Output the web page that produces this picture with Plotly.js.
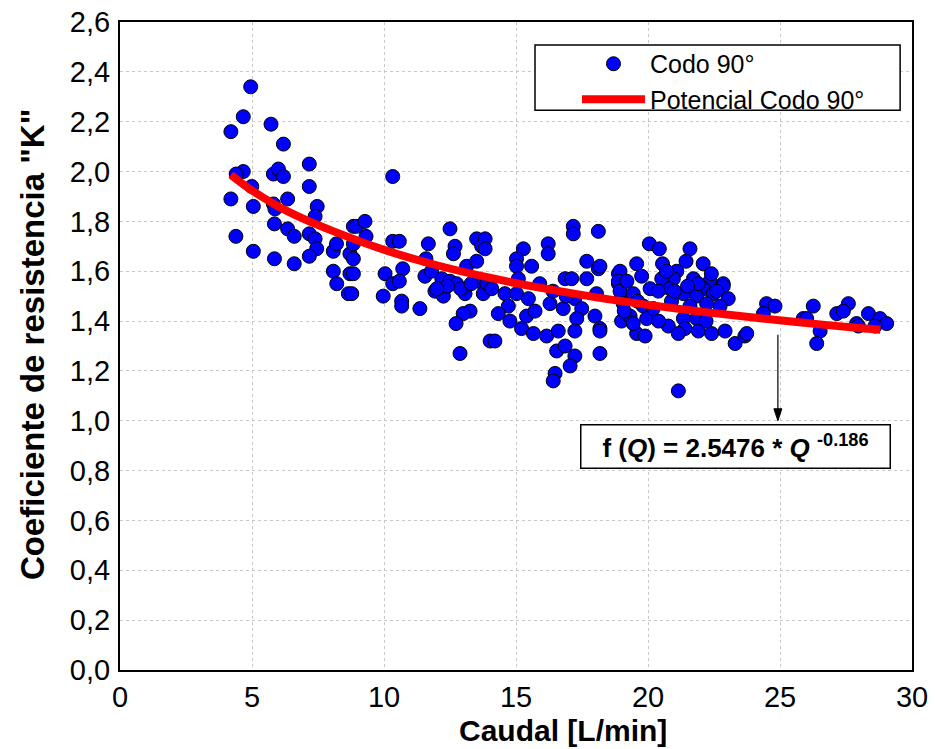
<!DOCTYPE html>
<html>
<head>
<meta charset="utf-8">
<script src="https://cdn.plot.ly/plotly-3.0.1.min.js"></script>
<style>html,body{margin:0;padding:0;background:#fff;}#chart{width:935px;height:749px;}</style>
</head>
<body>
<div id="chart"></div>
<script>
// Measured points: Caudal Q [L/min] and resistance coefficient K
const caudalQ = [
 4.95,4.67,4.20,5.72,6.19,7.17,4.67,4.40,5.81,6.00,6.19,7.17,4.99,4.20,5.05,5.81,5.87,6.35,7.47,7.39,5.85,6.35,6.60,7.17,7.39,7.45,4.39,5.05,5.85,6.60,7.17,8.08,8.20,8.08,8.21,8.65,8.71,8.84,8.71,
 8.96,9.28,9.32,8.84,8.84,8.84,8.78,10.33,10.33,10.58,10.04,10.71,10.33,10.58,9.97,10.67,10.67,11.36,11.68,11.59,11.55,11.93,12.19,12.50,12.69,12.63,12.50,12.25,12.75,13.07,13.13,13.51,13.70,13.51,13.57,13.76,13.26,13.00,12.73,12.88,14.02,
 12.9,13.3,12.4,13.9,11.8,12.0,
 13.83,13.83,15.28,16.22,16.22,17.17,17.17,18.12,15.02,15.02,15.59,15.09,14.08,14.58,15.02,15.47,14.71,14.33,14.77,15.40,15.72,15.21,15.66,14.20,16.29,16.86,17.11,16.79,17.23,17.68,18.12,17.68,18.05,17.99,18.18,17.49,17.30,17.23,16.16,16.60,16.54,16.86,17.23,17.05,16.48,16.41,18.18,18.88,18.88,19.00,19.00,18.18,18.18,
 16.4,16.9,15.9,
 20.05,20.43,21.59,21.44,19.57,20.55,22.09,18.94,19.76,21.09,20.96,18.88,20.52,21.72,22.35,22.85,20.08,20.83,22.09,22.85,18.94,19.44,20.39,21.34,21.84,22.47,23.04,20.89,19.06,19.82,21.59,22.22,22.73,19.32,19.95,21.34,21.84,20.77,21.40,21.91,22.41,22.92,19.57,19.89,19.44,21.15,23.30,23.67,21.15,
 19.2,19.6,20.2,21.0,21.9,22.6,20.4,22.2,19.1,21.5,22.4,20.7,
 24.49,24.81,24.37,23.74,25.88,26.26,26.01,26.52,26.39,27.15,27.59,27.40,28.35,28.79,29.04,27.90,28.60,27.97
];
const coefK = [
 2.34,2.22,2.16,2.19,2.11,2.03,2.00,1.99,1.99,2.01,1.98,1.94,1.94,1.89,1.86,1.87,1.85,1.89,1.86,1.82,1.79,1.77,1.74,1.75,1.73,1.69,1.74,1.68,1.65,1.63,1.66,1.68,1.71,1.60,1.55,1.51,1.59,1.78,1.67,
 1.78,1.80,1.74,1.71,1.65,1.59,1.51,1.98,1.72,1.72,1.59,1.61,1.55,1.56,1.50,1.48,1.46,1.45,1.71,1.65,1.58,1.52,1.57,1.77,1.70,1.67,1.56,1.50,1.55,1.51,1.62,1.73,1.70,1.64,1.56,1.51,1.44,1.43,1.39,1.27,1.32,
 1.53,1.55,1.54,1.55,1.60,1.53,
 1.73,1.69,1.69,1.71,1.67,1.78,1.75,1.76,1.65,1.62,1.62,1.57,1.53,1.51,1.51,1.49,1.46,1.43,1.40,1.42,1.44,1.37,1.35,1.32,1.47,1.57,1.57,1.45,1.49,1.64,1.61,1.57,1.51,1.42,1.37,1.45,1.41,1.36,1.34,1.36,1.28,1.30,1.26,1.22,1.19,1.16,1.27,1.59,1.55,1.50,1.40,1.62,1.36,
 1.52,1.50,1.55,
 1.71,1.69,1.69,1.64,1.63,1.63,1.63,1.60,1.58,1.60,1.57,1.56,1.57,1.57,1.56,1.55,1.53,1.53,1.53,1.54,1.52,1.51,1.52,1.51,1.50,1.51,1.49,1.48,1.47,1.46,1.46,1.47,1.46,1.42,1.41,1.41,1.41,1.38,1.37,1.36,1.35,1.36,1.35,1.34,1.39,1.35,1.31,1.34,1.12,
 1.56,1.48,1.45,1.52,1.55,1.52,1.40,1.40,1.44,1.54,1.59,1.60,
 1.47,1.46,1.43,1.35,1.41,1.46,1.41,1.36,1.31,1.43,1.47,1.44,1.43,1.41,1.39,1.39,1.38,1.38
];
// Power trend line
const trendQ = [4.2,5,6,7,8,10,12,14,16,18,20,22,24,26,28,28.8];
const trendK = [1.987,1.924,1.86,1.808,1.764,1.686,1.624,1.574,1.532,1.496,1.465,1.438,1.414,1.392,1.372,1.365];

const seriesNames = ['Codo 90°', 'Potencial Codo 90°'];
const xTitle = 'Caudal [L/min]';
const yTitle = 'Coeficiente de resistencia "K"';
const fitLabel = '<b>f (<i>Q</i>) = 2.5476 * <i>Q</i> <sup>-0.186</sup></b>';
const fitPoint = {q: 24.92, kFrom: 1.345, kTo: 1.0};

const FONT = 'Liberation Sans, Arial, sans-serif';

const traces = [
  {x: caudalQ, y: coefK, type: 'scatter', mode: 'markers', name: seriesNames[0],
   marker: {color: '#0000ff', size: 14, line: {color: '#000', width: 1}}},
  {x: trendQ, y: trendK, type: 'scatter', mode: 'lines', name: seriesNames[1],
   line: {color: '#ff0000', width: 8, shape: 'spline'}}
];

const layout = {
  width: 935, height: 749,
  margin: {l: 120, r: 23, t: 22, b: 79},
  paper_bgcolor: '#fff', plot_bgcolor: '#fff',
  separators: ',.',
  font: {family: FONT, color: '#000'},
  showlegend: true,
  legend: {x: 0.577, y: 0.9707, xanchor: 'left', yanchor: 'top',
           bgcolor: 'rgba(0,0,0,0)', borderwidth: 0,
           font: {size: 25, family: FONT}, itemwidth: 63, tracegroupgap: 0},
  xaxis: {range: [0, 30], dtick: 5, tick0: 0, showgrid: true, gridcolor: '#c8c8c8', griddash: 'dot',
          zeroline: false, showline: true, linecolor: '#000', linewidth: 2, mirror: true,
          ticks: '', ticklabelstandoff: 0, tickfont: {size: 29, family: FONT}},
  yaxis: {range: [0, 2.6], dtick: 0.2, tick0: 0, tickformat: '.1f', showgrid: true, gridcolor: '#c8c8c8', griddash: 'dot',
          zeroline: false, showline: true, linecolor: '#000', linewidth: 2, mirror: true,
          ticks: '', ticklabelstandoff: 2, tickfont: {size: 29, family: FONT}},
  shapes: [
    {type: 'rect', xref: 'paper', yref: 'paper', x0: 0.524, x1: 0.985, y0: 0.864, y1: 0.9645,
     fillcolor: '#fff', line: {color: '#000', width: 1.5}, layer: 'above'},
    {type: 'line', xref: 'x', yref: 'y', x0: fitPoint.q, x1: fitPoint.q, y0: fitPoint.kFrom, y1: fitPoint.kTo + 0.03,
     line: {color: '#000', width: 1.2}},
    {type: 'path', xref: 'x', yref: 'y', xsizemode: 'pixel', ysizemode: 'pixel',
     xanchor: fitPoint.q, yanchor: fitPoint.kTo, path: 'M0,0 L-4,12 L4,12 Z',
     fillcolor: '#000', line: {color: '#000', width: 1}}
  ],
  annotations: [
    {x: -0.111, y: 0.5015, xref: 'paper', yref: 'paper', text: '<b>' + yTitle + '</b>', textangle: -90,
     showarrow: false, font: {size: 33, family: FONT, color: '#000'}, xanchor: 'center', yanchor: 'middle'},
    {x: 0.559, y: -0.094, xref: 'paper', yref: 'paper', text: '<b>' + xTitle + '</b>',
     showarrow: false, font: {size: 30, family: FONT, color: '#000'}, xanchor: 'center', yanchor: 'middle'},
    {x: 23.3, y: 0.895, xref: 'x', yref: 'y', text: fitLabel, showarrow: false,
     font: {size: 26, family: FONT, color: '#000'}, bgcolor: '#fff', bordercolor: '#000', borderwidth: 1.5,
     width: 306, height: 40, align: 'center', valign: 'middle'}
  ]
};

Plotly.newPlot('chart', traces, layout, {displayModeBar: false, responsive: false});
</script>
</body>
</html>
